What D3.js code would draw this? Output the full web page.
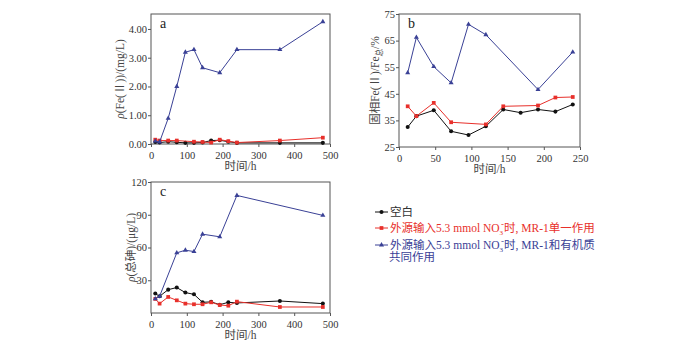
<!DOCTYPE html>
<html>
<head>
<meta charset="utf-8">
<script src="https://cdn.jsdelivr.net/npm/d3@7"></script>
<style>
  body { margin: 0; background: #fff; }
  svg { display: block; }
  text { font-family: "Liberation Serif", "Times New Roman", "Noto Sans CJK SC", serif; }
</style>
</head>
<body>
<div id="chart"></div>
<script>
// ---- data ----
// panel a: Fe(II) mg/L
const timeA = [12, 24, 48, 72, 96, 120, 144, 168, 192, 216, 240, 360, 480];
const aBlank = [0.07, 0.05, 0.08, 0.06, 0.04, 0.04, 0.05, 0.12, 0.13, 0.08, 0.04, 0.04, 0.04];
const aTimeRed = [12, 24, 48, 72, 120, 144, 168, 192, 216, 240, 360, 480];
const aRed = [0.15, 0.12, 0.12, 0.12, 0.08, 0.07, 0.05, 0.15, 0.10, 0.05, 0.12, 0.22];
const aTimeBlue = [12, 24, 48, 72, 96, 120, 144, 192, 240, 360, 480];
const aBlue = [0.10, 0.07, 0.89, 2.00, 3.19, 3.28, 2.65, 2.48, 3.28, 3.28, 4.25];

// panel b: solid Fe(II)/Fe_total %
const bTimeBlank = [12, 24, 48, 72, 96, 120, 144, 168, 192, 216, 240];
const bBlank = [32.5, 36.6, 38.8, 30.9, 29.5, 32.8, 39.1, 37.9, 39.1, 38.3, 41.0];
const bTimeRed = [12, 24, 48, 72, 120, 144, 192, 216, 240];
const bRed = [40.3, 36.6, 41.6, 34.3, 33.5, 40.3, 40.6, 43.6, 43.8];
const bTimeBlue = [12, 24, 48, 72, 96, 120, 192, 240];
const bBlue = [52.9, 66.2, 55.2, 49.1, 71.1, 67.2, 46.6, 60.7];

// panel c: total arsenic ug/L
const cTime = [12, 24, 48, 72, 96, 120, 144, 168, 192, 216, 240, 360, 480];
const cBlank = [17.8, 15.3, 21.4, 23.3, 18.7, 17.1, 9.8, 10.2, 7.6, 9.8, 9.2, 11.0, 8.6];
const cRed = [12.9, 8.6, 14.7, 11.6, 8.6, 8.0, 8.0, 9.8, 7.3, 6.7, 10.4, 5.5, 5.5];
const cTimeBlue = [12, 24, 72, 96, 120, 144, 192, 240, 480];
const cBlue = [12.9, 15.3, 55.1, 57.5, 56.3, 72.2, 69.8, 107.7, 89.4];

const ticksA = [0, 1, 2, 3, 4];
const ticksB = [25, 35, 45, 55, 65, 75];
const ticksC = [30, 60, 90, 120];
const ticksX500 = [0, 100, 200, 300, 400, 500];
const ticksX250 = [0, 50, 100, 150, 200, 250];

const legendLabels = ["空白", "外源输入5.3 mmol NO3-时, MR-1单一作用", "外源输入5.3 mmol NO3-时, MR-1和有机质", "共同作用"];

const colors = { black: "#111111", red: "#e8302b", blue: "#3a4196", frame: "#555555", text: "#444444" };

const svg = d3.select("#chart").append("svg")
  .attr("width", 700).attr("height", 352);

function panel(cfg) {
  const x = d3.scaleLinear().domain(cfg.xDomain).range([cfg.left, cfg.right]);
  const y = d3.scaleLinear().domain(cfg.yDomain).range([cfg.bottom, cfg.top]);
  const g = svg.append("g");

  const xAxis = g.append("g")
    .attr("transform", `translate(0,${cfg.bottom})`)
    .call(d3.axisBottom(x).tickValues(cfg.xTicks).tickSize(3).tickSizeOuter(0));
  const yAxis = g.append("g")
    .attr("transform", `translate(${cfg.left},0)`)
    .call(d3.axisLeft(y).tickValues(cfg.yTicks).tickFormat(cfg.yFormat).tickSize(3).tickSizeOuter(0));
  [xAxis, yAxis].forEach(ax => {
    ax.select(".domain").remove();
    ax.selectAll(".tick line").attr("stroke", colors.frame);
    ax.selectAll(".tick text")
      .attr("fill", "#333")
      .style("font-size", "10.5px")
      .style("font-family", "'Liberation Serif', serif");
  });
  xAxis.selectAll(".tick text").attr("dy", "0.9em");
  yAxis.selectAll(".tick text").attr("x", -4);

  g.append("rect")
    .attr("x", cfg.left).attr("y", cfg.top)
    .attr("width", cfg.right - cfg.left).attr("height", cfg.bottom - cfg.top)
    .attr("fill", "none").attr("stroke", colors.frame).attr("stroke-width", 1);

  g.append("text")
    .attr("x", cfg.left + 9).attr("y", cfg.top + 14)
    .style("font-size", "14px").attr("fill", "#222")
    .text(cfg.letter);

  g.append("text")
    .attr("x", (cfg.left + cfg.right) / 2).attr("y", cfg.bottom + 26)
    .attr("text-anchor", "middle")
    .style("font-size", "11.5px").attr("fill", colors.text)
    .text("时间/h");

  const yl = g.append("text")
    .attr("transform", `translate(${cfg.yLabelX},${(cfg.top + cfg.bottom) / 2}) rotate(-90)`)
    .attr("text-anchor", "middle")
    .attr("dy", "0.35em")
    .style("font-size", "11.5px").attr("fill", colors.text);
  cfg.yLabel(yl);

  const line = d3.line().x(d => x(d[0])).y(d => y(d[1]));
  cfg.series.forEach(s => {
    const pts = s.t.map((t, i) => [t, s.v[i]]);
    g.append("path").datum(pts)
      .attr("d", line).attr("fill", "none")
      .attr("stroke", s.color).attr("stroke-width", 1);
    drawMarkers(g, pts.map(p => [x(p[0]), y(p[1])]), s.shape, s.color);
  });
}

function drawMarkers(g, pts, shape, color) {
  const sym = shape === "circle" ? d3.symbolCircle : shape === "square" ? d3.symbolSquare : d3.symbolTriangle;
  const size = shape === "circle" ? 13 : shape === "square" ? 14 : 11;
  g.selectAll(null).data(pts).enter().append("path")
    .attr("transform", d => `translate(${d[0]},${d[1]})`)
    .attr("d", d3.symbol().type(sym).size(size))
    .attr("fill", color);
}

panel({
  left: 151, right: 330, top: 14, bottom: 144,
  xDomain: [0, 500], yDomain: [0, 4.52],
  xTicks: ticksX500, yTicks: ticksA, yFormat: d3.format(".2f"),
  letter: "a", yLabelX: 120,
  yLabel: t => {
    t.append("tspan").style("font-style", "italic").text("ρ");
    t.append("tspan").text("(Fe(Ⅱ))/(mg/L)");
  },
  series: [
    { t: timeA, v: aBlank, color: colors.black, shape: "circle" },
    { t: aTimeRed, v: aRed, color: colors.red, shape: "square" },
    { t: aTimeBlue, v: aBlue, color: colors.blue, shape: "triangle" }
  ]
});

panel({
  left: 399, right: 580, top: 14, bottom: 147,
  xDomain: [0, 250], yDomain: [25, 75],
  xTicks: ticksX250, yTicks: ticksB, yFormat: d3.format("d"),
  letter: "b", yLabelX: 375,
  yLabel: t => {
    t.append("tspan").text("固相Fe(Ⅱ)/Fe");
    t.append("tspan").attr("dy", 3).style("font-size", "7.5px").text("总");
    t.append("tspan").attr("dy", -3).text("/%");
  },
  series: [
    { t: bTimeBlank, v: bBlank, color: colors.black, shape: "circle" },
    { t: bTimeRed, v: bRed, color: colors.red, shape: "square" },
    { t: bTimeBlue, v: bBlue, color: colors.blue, shape: "triangle" }
  ]
});

panel({
  left: 151, right: 330, top: 182, bottom: 313,
  xDomain: [0, 500], yDomain: [0, 120],
  xTicks: ticksX500, yTicks: ticksC, yFormat: d3.format("d"),
  letter: "c", yLabelX: 131,
  yLabel: t => {
    t.append("tspan").style("font-style", "italic").text("ρ");
    t.append("tspan").text("(总砷)/(μg/L)");
  },
  series: [
    { t: cTime, v: cBlank, color: colors.black, shape: "circle" },
    { t: cTime, v: cRed, color: colors.red, shape: "square" },
    { t: cTimeBlue, v: cBlue, color: colors.blue, shape: "triangle" }
  ]
});

// ---- legend ----
const legend = svg.append("g");
const legendItems = [
  { y: 212, color: colors.black, text: "#333", shape: "circle", label: legendLabels[0] },
  { y: 228, color: colors.red, text: colors.red, shape: "square", label: legendLabels[1] },
  { y: 245, color: colors.blue, text: colors.blue, shape: "triangle", label: legendLabels[2] }
];
legendItems.forEach(it => {
  legend.append("line")
    .attr("x1", 375).attr("x2", 388).attr("y1", it.y).attr("y2", it.y)
    .attr("stroke", it.color).attr("stroke-width", 1);
  drawMarkers(legend, [[381.5, it.y]], it.shape, it.color);
  const t = legend.append("text")
    .attr("x", 390).attr("y", it.y + 4)
    .attr("fill", it.text).style("font-size", "11.5px");
  const m = it.label.match(/^(.*NO)3-(.*)$/);
  if (m) {
    t.append("tspan").text(m[1]);
    t.append("tspan").attr("dy", 2.5).style("font-size", "7px").text("3");
    t.append("tspan").attr("dx", -2).attr("dy", -8).style("font-size", "9px").text("-");
    t.append("tspan").attr("dy", 5.5).text(m[2]);
  } else {
    t.text(it.label);
  }
});
legend.append("text")
  .attr("x", 389).attr("y", 261)
  .attr("fill", colors.blue).style("font-size", "11.5px")
  .text(legendLabels[3]);
</script>
</body>
</html>
